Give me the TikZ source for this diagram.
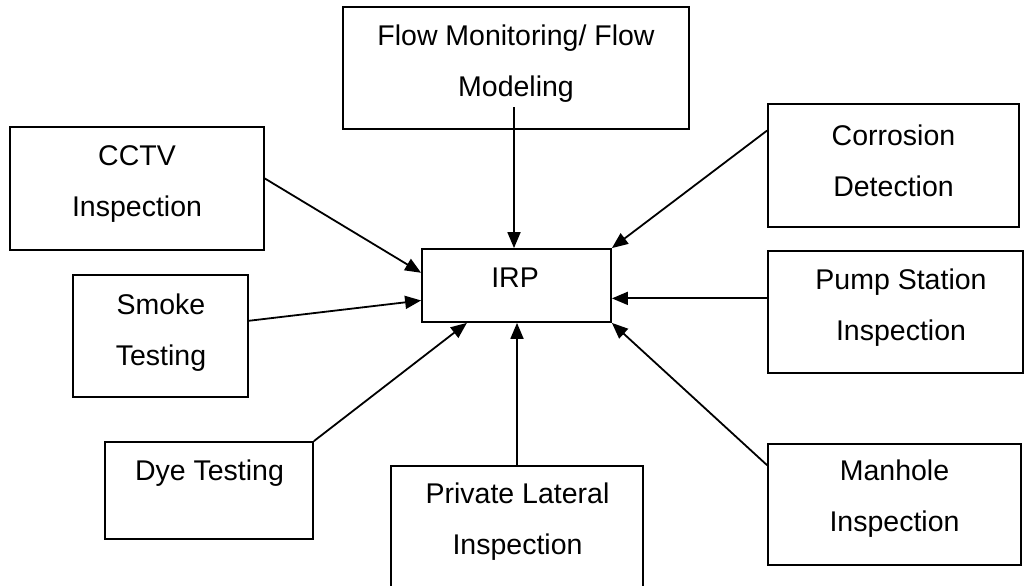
\documentclass[tikz,border=0pt]{standalone}
\usepackage{fontspec}
\setmainfont{Liberation Sans}
\usetikzlibrary{arrows.meta,calc}
\begin{document}
\begin{tikzpicture}[x=1pt,y=-1pt,
  box/.style={draw,line width=1.8pt,inner sep=0pt,rectangle},
  txt/.style={inner sep=0pt,align=center,font=\fontsize{28.5}{51}\selectfont},
  arr/.style={line width=1.8pt,-{Triangle[length=16pt,width=13pt]}}]
\clip (0,0) rectangle (1025,586);
\fill[white] (0,0) rectangle (1025,586);
% boxes
\node[box,minimum width=346pt,minimum height=122pt] (flow) at (516,68) {};
\node[box,minimum width=254pt,minimum height=123pt] (cctv) at (137,188.5) {};
\node[box,minimum width=175pt,minimum height=122pt] (smoke) at (160.5,336) {};
\node[box,minimum width=208pt,minimum height=97pt] (dye) at (209,490.5) {};
\node[box,minimum width=189pt,minimum height=73pt] (irp) at (516.5,285.5) {};
\node[box,minimum width=252pt,minimum height=150pt] (pl) at (517,541) {};
\node[box,minimum width=251pt,minimum height=123pt] (corr) at (893.5,165.5) {};
\node[box,minimum width=255pt,minimum height=122pt] (pump) at (895.5,312) {};
\node[box,minimum width=253pt,minimum height=121pt] (man) at (894.5,504.5) {};
% texts
\node[txt] (flowtxt) at (516,64) {Flow Monitoring/ Flow\\Modeling};
\node[txt] (cctvtxt) at (137,184.5) {CCTV\\Inspection};
\node[txt] (smoketxt) at (161,332.5) {Smoke\\Testing};
\node[txt] (dyetxt) at (209.5,473.6) {Dye Testing};
\node[txt] (irptxt) at (515,278) {IRP};
\node[txt] (pltxt) at (517.5,522) {Private Lateral\\Inspection};
\node[txt] (corrtxt) at (893.5,160.5) {Corrosion\\Detection};
\node[txt] (pumptxt) at (901,308) {Pump Station\\Inspection};
\node[txt] (mantxt) at (894.5,499) {Manhole\\Inspection};
% connector start points
\coordinate (fs) at (514,107);
\coordinate (cs) at ($(cctv.north east)!0.42!(cctv.south east)$);
\coordinate (ss) at ($(smoke.north east)!0.377!(smoke.south east)$);
\coordinate (ks) at ($(corr.north west)!0.22!(corr.south west)$);
\coordinate (ps) at ($(pump.north west)!0.39!(pump.south west)$);
\coordinate (ms) at ($(man.north west)!0.18!(man.south west)$);
% connectors
\draw[arr] (fs) -- (fs |- irp.north);
\draw[arr] (pl.north) -- (pl.north |- irp.south);
\draw[arr] (cs) -- ($(irp.north west)!0.33!(irp.south west)$);
\draw[arr] (ss) -- ($(irp.north west)!0.70!(irp.south west)$);
\draw[arr] (dye.north east) -- ($(irp.south west)!0.24!(irp.south east)$);
\draw[arr] (ks) -- (irp.north east);
\draw[arr] (ps) -- (ps -| irp.east);
\draw[arr] (ms) -- (irp.south east);
\end{tikzpicture}
\end{document}
